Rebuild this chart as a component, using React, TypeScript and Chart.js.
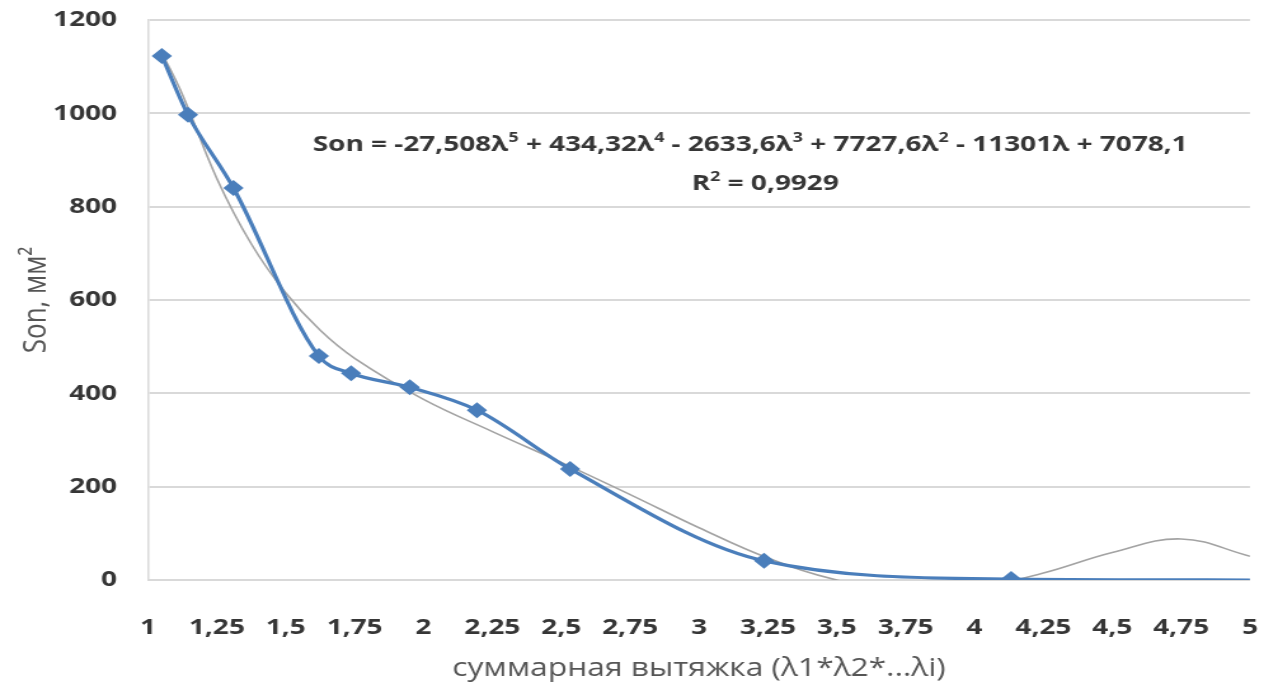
import React, { useEffect, useRef } from 'react';
import { Chart, registerables } from 'chart.js';

Chart.register(...registerables);

// horizontal stretch of the reference picture
const S = 1.27;
const W = 1278;
const H = 693;

// measured series (суммарная вытяжка vs Son)
const stretchX = [1.05, 1.145, 1.31, 1.62, 1.737, 1.95, 2.194, 2.532, 3.236, 4.133, 5];
const sonY = [1123, 997, 840, 480, 443, 413, 364, 238, 41, 2, 0];
const markerRadius = [8, 8, 8, 8, 8, 8, 8, 8, 8, 8, 0];

// polynomial trendline
const trendX = [1.05, 1.125, 1.25, 1.375, 1.5, 1.625, 1.75, 2, 2.25, 2.5, 2.75, 3, 3.25, 3.5, 3.75, 4, 4.25, 4.5, 4.75, 5];
const trendY = [1130, 1040, 860, 720, 615, 535, 475, 387, 318, 252, 183, 112, 47, 0, -23, -17, 15, 59, 88, 51];

const xMin = 1;
const xMax = 5;
const xStep = 0.25;
const yMin = 0;
const yMax = 1200;
const yStep = 200;

const xTitle = 'суммарная вытяжка (λ1*λ2*...λi)';
const yTitle = 'Son, мм²';

const equationParts: [string, boolean][] = [
  ['Son = -27,508λ', false], ['5', true],
  [' + 434,32λ', false], ['4', true],
  [' - 2633,6λ', false], ['3', true],
  [' + 7727,6λ', false], ['2', true],
  [' - 11301λ + 7078,1', false],
];
const r2Parts: [string, boolean][] = [['R', false], ['2', true], [' = 0,9929', false]];

const FONT = "'Open Sans', 'Liberation Sans', sans-serif";
const TEXT = '#363636';
const TITLE = '#555555';
const BLUE = '#4a7ebb';
const TREND = '#a3a3a3';
const GRID = '#d9d9d9';

function fmt(v: number) {
  return String(Math.round(v * 100) / 100).replace('.', ',');
}

const equationPlugin = {
  id: 'equation',
  afterDraw(chart: any) {
    const ctx = chart.ctx as CanvasRenderingContext2D;
    const drawLine = (parts: [string, boolean][], cx: number, cy: number) => {
      const big = `bold 22px ${FONT}`;
      const small = `bold 14px ${FONT}`;
      let total = 0;
      for (const [t, sup] of parts) {
        ctx.font = sup ? small : big;
        total += ctx.measureText(t).width;
      }
      let x = cx - total / 2;
      ctx.save();
      ctx.fillStyle = TEXT;
      ctx.textAlign = 'left';
      ctx.textBaseline = 'middle';
      for (const [t, sup] of parts) {
        ctx.font = sup ? small : big;
        ctx.fillText(t, x, sup ? cy - 7 : cy);
        x += ctx.measureText(t).width;
      }
      ctx.restore();
    };
    drawLine(equationParts, 750 / S, 145);
    drawLine(r2Parts, 765 / S, 184);
  },
};

export default function App() {
  const ref = useRef<HTMLCanvasElement>(null);
  useEffect(() => {
    document.body.style.margin = '0';
    const canvas = ref.current!;
    const chart = new Chart(canvas, {
      type: 'line',
      data: {
        datasets: [
          {
            data: stretchX.map((x, i) => ({ x, y: sonY[i] })),
            borderColor: BLUE,
            backgroundColor: BLUE,
            borderWidth: 3.2,
            pointStyle: 'rectRot',
            pointRadius: markerRadius,
            pointBorderWidth: 0,
            pointBackgroundColor: BLUE,
            cubicInterpolationMode: 'monotone',
            fill: false,
          },
          {
            data: trendX.map((x, i) => ({ x, y: trendY[i] })),
            borderColor: TREND,
            borderWidth: 1.6,
            pointRadius: 0,
            tension: 0.4,
            fill: false,
          },
        ],
      },
      options: {
        animation: false,
        responsive: false,
        devicePixelRatio: 1,
        layout: { padding: { left: 0, right: 28 / S, top: 20, bottom: 0 } },
        plugins: { legend: { display: false }, tooltip: { enabled: false } },
        scales: {
          x: {
            type: 'linear',
            min: xMin,
            max: xMax,
            ticks: {
              stepSize: xStep,
              callback: (v: any) => fmt(Number(v)),
              font: { family: FONT, size: 22, weight: 'bold' },
              color: TEXT,
              padding: 35,
              maxRotation: 0,
              autoSkip: false,
            },
            grid: { display: false, drawTicks: false },
            border: { color: GRID, width: 2 },
            title: {
              display: true,
              text: xTitle,
              font: { family: FONT, size: 25 },
              color: TITLE,
              padding: { top: 0, bottom: 9 },
            },
            afterFit: (s: any) => {
              s.height = 113;
              s.paddingLeft = 0;
              s.paddingRight = 0;
            },
          },
          y: {
            min: yMin,
            max: yMax,
            ticks: {
              stepSize: yStep,
              callback: (v: any) => String(v),
              font: { family: FONT, size: 22, weight: 'bold' },
              color: TEXT,
              padding: 31 / S,
            },
            grid: { color: GRID, lineWidth: 2, drawTicks: false },
            border: { color: GRID, width: 1.5 },
            title: {
              display: true,
              text: yTitle,
              font: { family: FONT, size: 26 },
              color: TITLE,
              padding: { top: 36 / S - 15.6, bottom: 0 },
            },
            afterFit: (s: any) => {
              s.width = 148 / S;
              s.paddingTop = 0;
              s.paddingBottom = 0;
            },
          },
        },
      } as any,
      plugins: [equationPlugin],
    });
    return () => chart.destroy();
  }, []);
  return (
    <div style={{ position: 'fixed', left: 0, top: 0, width: W, height: H, background: '#fff' }}>
      <canvas
        ref={ref}
        width={Math.round(W / S)}
        height={H}
        style={{ width: `${W}px`, height: `${H}px`, display: 'block' }}
      />
    </div>
  );
}
